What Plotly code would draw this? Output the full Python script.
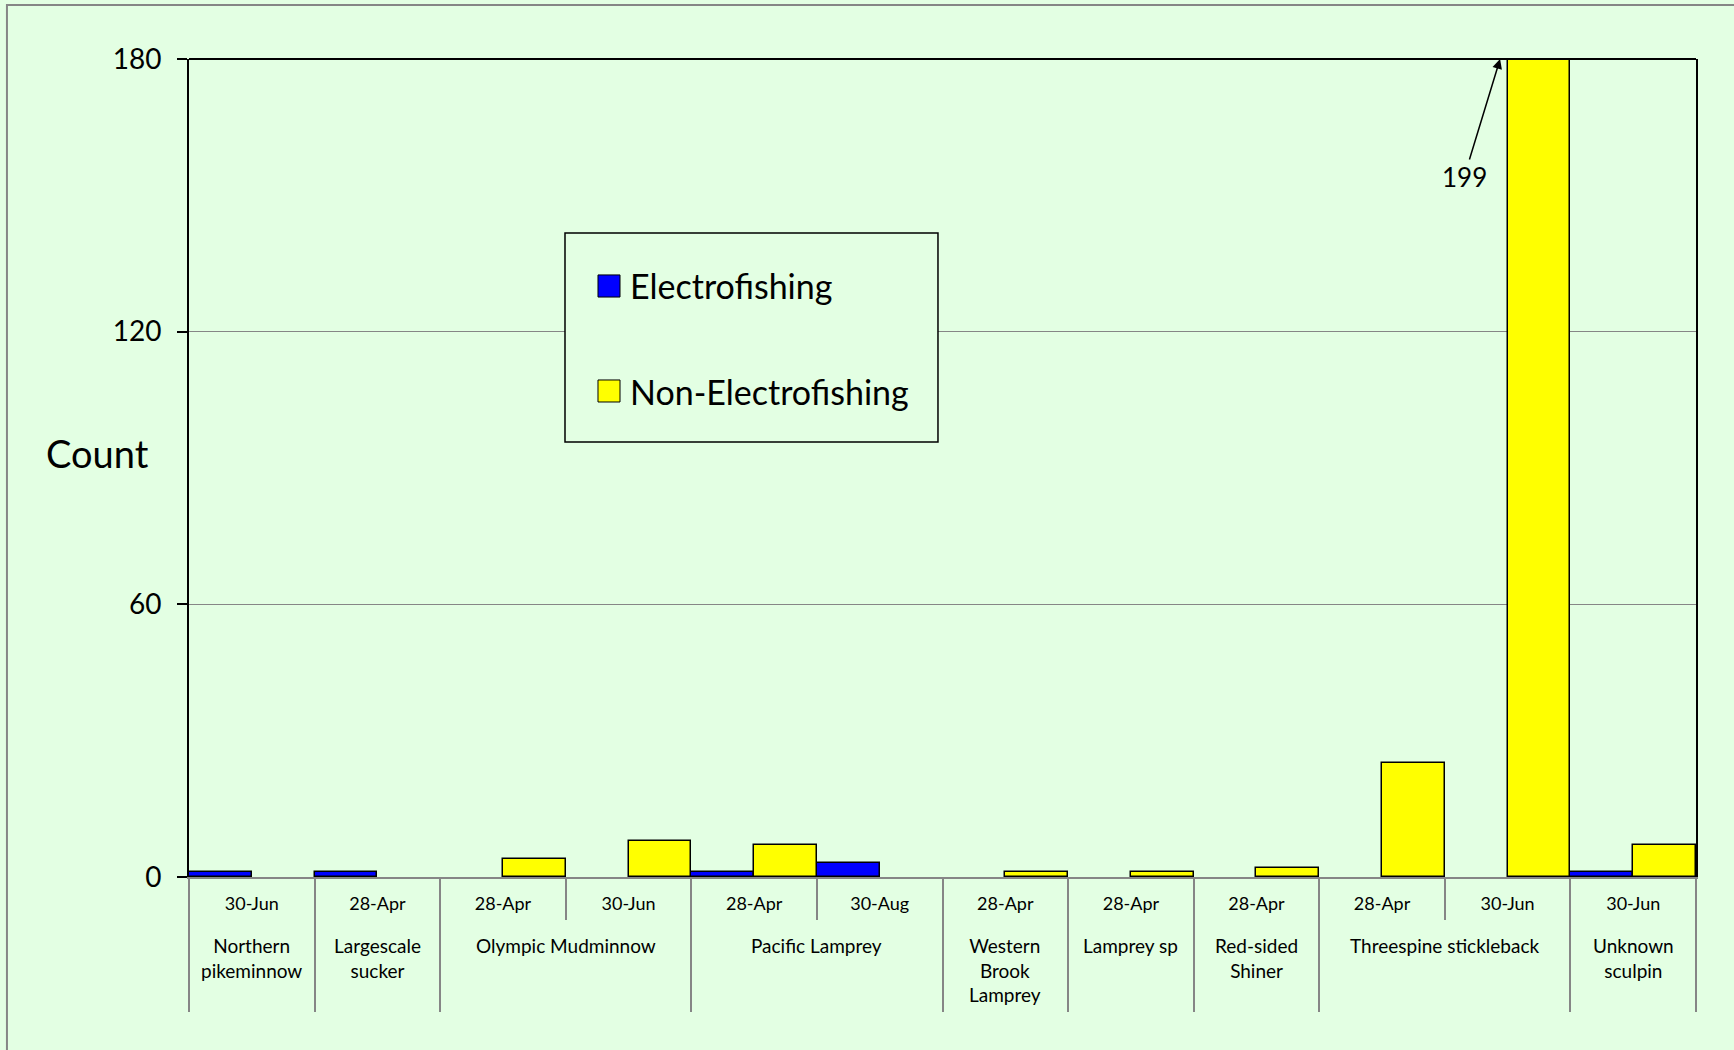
import plotly.graph_objects as go

species = ["Northern<br>pikeminnow", "Largescale<br>sucker", "Olympic Mudminnow", "Olympic Mudminnow",
           "Pacific Lamprey", "Pacific Lamprey", "Western<br>Brook<br>Lamprey", "Lamprey sp",
           "Red-sided<br>Shiner", "Threespine stickleback", "Threespine stickleback", "Unknown<br>sculpin"]
dates = ["30-Jun", "28-Apr", "28-Apr", "30-Jun", "28-Apr", "30-Aug", "28-Apr", "28-Apr",
         "28-Apr", "28-Apr", "30-Jun", "30-Jun"]
electro = [1, 1, None, None, 1, 3, None, None, None, None, None, 1]
non_electro = [None, None, 4, 8, 7, None, 1, 1, 2, 25, 199, 7]
series_names = ["Electrofishing", "Non-Electrofishing"]
series_colors = ["#0000FF", "#FFFF00"]
y_ticks = [0, 60, 120, 180]
y_max = 180
clipped_label = "199"

BG = "#E3FFE3"
FONT = "Lato"
GRAY = "#868686"

n = len(dates)
idx = list(range(n))
cat_bounds = [i - 0.5 for i in range(n + 1)]
# group runs of species
runs = []
start = 0
for i in range(1, n + 1):
    if i == n or species[i] != species[start]:
        runs.append((start, i - 1, species[start]))
        start = i
group_bounds = [r[0] - 0.5 for r in runs] + [n - 0.5]

fig = go.Figure()
for name, vals, col in zip(series_names, [electro, non_electro], series_colors):
    fig.add_trace(go.Bar(
        x=idx, y=vals, name=name, marker_color=col,
        marker_line_color="black", marker_line_width=1.5, showlegend=False,
    ))
# invisible helper trace so the divider axis is drawn
fig.add_trace(go.Scatter(x=[None], y=[None], xaxis="x2", showlegend=False, hoverinfo="skip"))

fig.update_layout(
    width=1734, height=1050,
    margin=dict(l=189, r=38, t=59, b=173),
    paper_bgcolor=BG, plot_bgcolor=BG,
    barmode="group", bargap=0, bargroupgap=0,
    font=dict(family=FONT, color="black"),
    xaxis=dict(
        range=[-0.5, n - 0.5], tickmode="array", tickvals=idx, ticktext=dates,
        showline=True, linecolor=GRAY, linewidth=2, showgrid=False, zeroline=False,
        ticks="outside", ticklen=9, tickcolor="rgba(0,0,0,0)",
        tickfont=dict(family=FONT, size=18, color="black"),
        minor=dict(tickmode="array", tickvals=cat_bounds, ticks="outside", ticklen=41,
                   tickcolor=GRAY, tickwidth=2, showgrid=False),
    ),
    xaxis2=dict(
        overlaying="x", anchor="y", side="bottom", range=[-0.5, n - 0.5],
        tickmode="array", tickvals=group_bounds, ticks="outside", ticklen=134,
        tickcolor=GRAY, tickwidth=2, showticklabels=False, showgrid=False,
        zeroline=False, showline=False,
    ),
    yaxis=dict(
        range=[0, y_max], tickvals=y_ticks, showgrid=True, gridcolor=GRAY, gridwidth=1,
        zeroline=False, showline=True, linecolor="black", linewidth=2, mirror=True,
        ticks="outside", ticklen=10, tickcolor="black", tickwidth=2, ticklabelstandoff=10,
        tickfont=dict(family=FONT, size=28, color="black"),
    ),
)

shapes = [
    dict(type="line", xref="paper", yref="y domain", x0=0, x1=1, y0=1, y1=1,
         line=dict(color="black", width=2)),
    dict(type="rect", xref="paper", yref="paper", x0=-0.1208, x1=1.1, y0=-0.4, y1=1.066,
         line=dict(color=GRAY, width=2), fillcolor="rgba(0,0,0,0)"),
    dict(type="rect", xref="paper", yref="paper", x0=0.2495, x1=0.497, y0=0.5318, y1=0.7873,
         line=dict(color="black", width=1.5), fillcolor=BG, layer="above"),
    dict(type="rect", xref="paper", yref="paper", x0=0.2714, x1=0.286, y0=0.709, y1=0.736,
         line=dict(color="black", width=1), fillcolor=series_colors[0], layer="above"),
    dict(type="rect", xref="paper", yref="paper", x0=0.2714, x1=0.286, y0=0.5807, y1=0.6076,
         line=dict(color="black", width=1), fillcolor=series_colors[1], layer="above"),
]
fig.update_layout(shapes=shapes)

annotations = [
    dict(text=series_names[0], xref="paper", yref="paper", x=0.2913, y=0.7225,
         xanchor="left", yanchor="middle", showarrow=False, font=dict(family=FONT, size=34)),
    dict(text=series_names[1], xref="paper", yref="paper", x=0.2913, y=0.5941,
         xanchor="left", yanchor="middle", showarrow=False, font=dict(family=FONT, size=34)),
    dict(text="Count", xref="paper", yref="paper", x=-0.0604, y=0.518,
         xanchor="center", yanchor="middle", showarrow=False, font=dict(family=FONT, size=38)),
    dict(text=clipped_label, xref="x", yref="y", x=9.94, y=y_max, ax=-36, ay=118,
         showarrow=True, arrowhead=2, arrowsize=1.3, arrowwidth=1.5, arrowcolor="black",
         font=dict(family=FONT, size=26)),
]
for s, e, name in runs:
    annotations.append(dict(text=name, xref="x", yref="paper", x=(s + e) / 2, y=-0.0672,
                            xanchor="center", yanchor="top", showarrow=False,
                            font=dict(family=FONT, size=19, color="black")))
fig.update_layout(annotations=annotations)

fig.write_html("out.html", config={"displayModeBar": False},
               post_script="document.body.style.margin='0px';")
